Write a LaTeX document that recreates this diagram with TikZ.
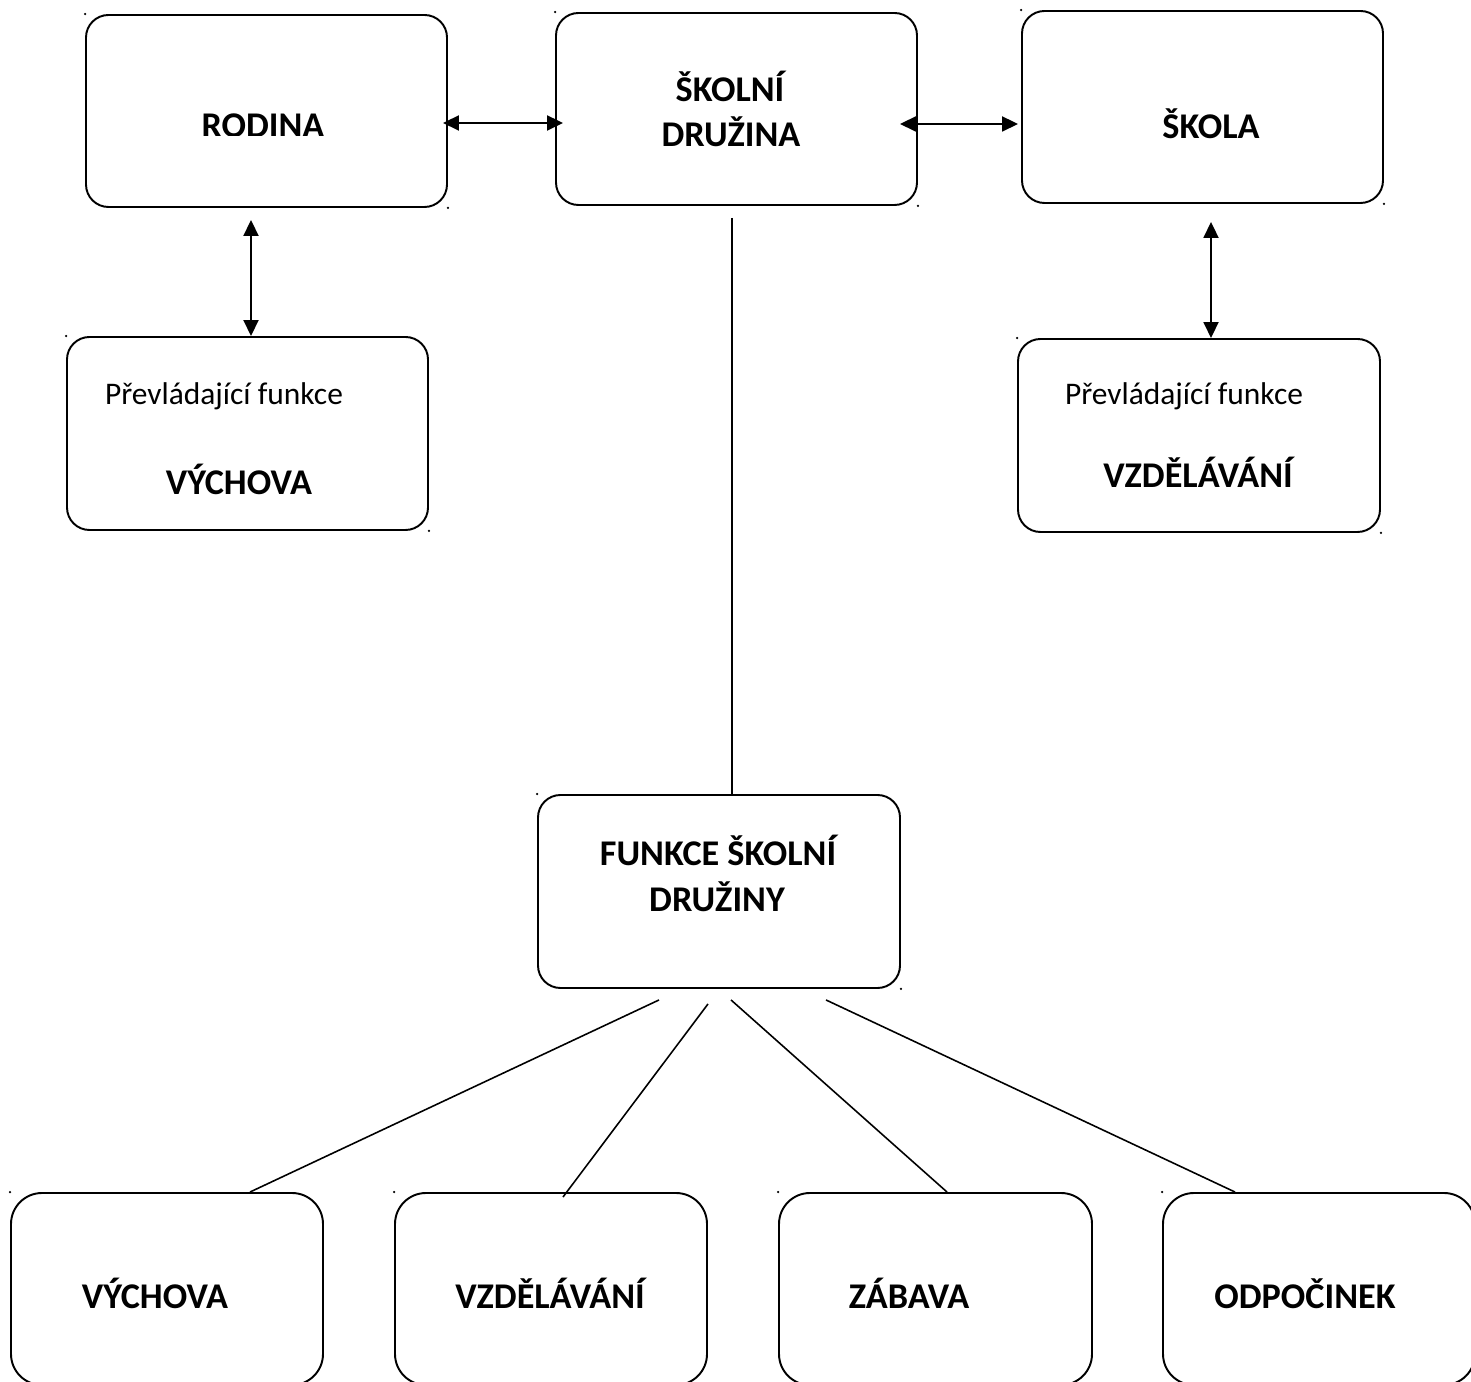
\documentclass[tikz,border=0pt]{standalone}
\usepackage{fontspec}
\setmainfont{Carlito}
\usetikzlibrary{arrows.meta}

\begin{document}
\begin{tikzpicture}[scale=1.0000]
	\tikzstyle{box}=[draw, rectangle, rounded corners=0.4500cm, line width=1.1000pt, minimum width=7.2200cm, minimum height=3.8400cm, inner sep=0pt]
	\tikzstyle{lowbox}=[box, rounded corners=0.6200cm, minimum width=6.2400cm]
	\tikzstyle{title}=[anchor=base, inner sep=0pt, font=\fontsize{20.6}{24}\selectfont\bfseries]
	\tikzstyle{plain}=[anchor=base, inner sep=0pt, font=\fontsize{17.9}{22}\selectfont]
	\tikzstyle{both}=[{Triangle[length=0.3200cm,width=0.3000cm]}-{Triangle[length=0.3200cm,width=0.3000cm]}, line width=1.1000pt]
	\tikzstyle{link}=[line width=0.9000pt]

	\useasboundingbox (0.0000,0.0000) rectangle (29.4200,27.6200);
	\clip (0.0000,0.0000) rectangle (29.4200,27.6200);

	%% boxes
	\node [box] (rodina) at (5.3300,25.4000) {};
	\node [box] (skolni) at (14.7300,25.4400) {};
	\node [box] (skola) at (24.0500,25.4800) {};
	\node [box, minimum height=3.8600cm] (vychovaR) at (4.9500,18.9500) {};
	\node [box, minimum height=3.8600cm, minimum width=7.2400cm] (vzdelS) at (23.9800,18.9100) {};
	\node [box, minimum height=3.8600cm, minimum width=7.2400cm] (funkce) at (14.3800,9.7900) {};
	\node [lowbox] (vychova) at (3.3400,1.8400) {};
	\node [lowbox] (vzdelavani) at (11.0200,1.8400) {};
	\node [lowbox, minimum width=6.2600cm] (zabava) at (18.7100,1.8400) {};
	\node [lowbox] (odpocinek) at (26.3800,1.8400) {};

	%% texts
	\begin{scope}
		\clip (3.0000,24.9000) rectangle (7.5000,26.0000);
		\node [title] (rodinaT) at (5.2600,24.8700) {RODINA};
	\end{scope}
	\node [title] (skolniT) at (14.6000,25.5800) {ŠKOLNÍ};
	\node [title] (skolniT2) at (14.6200,24.6800) {DRUŽINA};
	\node [title] (skolaT) at (24.2200,24.8400) {ŠKOLA};
	\node [plain] (vychovaRT) at (4.4800,19.5200) {Převládající funkce};
	\node [title] (vychovaRT2) at (4.7800,17.7200) {VÝCHOVA};
	\node [plain] (vzdelST) at (23.6800,19.5200) {Převládající funkce};
	\node [title] (vzdelST2) at (23.9600,17.8600) {VZDĚLÁVÁNÍ};
	\node [title] (funkceT) at (14.3600,10.3000) {FUNKCE ŠKOLNÍ};
	\node [title] (funkceT2) at (14.3400,9.3800) {DRUŽINY};
	\node [title] (vychovaT) at (3.1000,1.4600) {VÝCHOVA};
	\node [title] (vzdelavaniT) at (11.0000,1.4600) {VZDĚLÁVÁNÍ};
	\node [title] (zabavaT) at (18.1800,1.4600) {ZÁBAVA};
	\node [title] (odpocinekT) at (26.1000,1.4600) {ODPOČINEK};

	%% arrows
	\coordinate (rs) at ([yshift=-0.2400cm]rodina.east);
	\draw [both, shorten <=-0.1000cm, shorten >=-0.1600cm] (rs) -- (rs -| skolni.west);
	\coordinate (ss) at ([yshift=-0.3000cm]skolni.east);
	\draw [both, shorten <=-0.3600cm, shorten >=0.0600cm] (ss) -- (ss -| skola.west);
	\coordinate (rv) at ([xshift=0.0700cm]vychovaR.north);
	\draw [both, shorten <=0.2400cm] (rv |- rodina.south) -- (rv);
	\coordinate (sv) at ([xshift=0.2400cm]vzdelS.north);
	\draw [both, shorten <=0.3600cm] (sv |- skola.south) -- (sv);

	%% lines
	\coordinate (sf) at ([xshift=0.2600cm]funkce.north);
	\draw [link, shorten <=0.2400cm] (sf |- skolni.south) -- (sf);
	\draw [link] ([xshift=-1.2000cm,yshift=-0.2200cm]funkce.south) -- ([xshift=1.6600cm]vychova.north);
	\draw [link] ([xshift=-0.2200cm,yshift=-0.3000cm]funkce.south) -- ([xshift=0.2400cm,yshift=-0.1000cm]vzdelavani.north);
	\draw [link] ([xshift=0.2400cm,yshift=-0.2200cm]funkce.south) -- ([xshift=0.2300cm]zabava.north);
	\draw [link] ([xshift=2.1400cm,yshift=-0.2200cm]funkce.south) -- ([xshift=-1.6800cm]odpocinek.north);

	%% corner marks
	\fill (rodina.north west) circle (0.0250cm);
	\fill (rodina.south east) circle (0.0250cm);
	\fill (skolni.north west) circle (0.0250cm);
	\fill (skolni.south east) circle (0.0250cm);
	\fill (skola.north west) circle (0.0250cm);
	\fill (skola.south east) circle (0.0250cm);
	\fill (vychovaR.north west) circle (0.0250cm);
	\fill (vychovaR.south east) circle (0.0250cm);
	\fill (vzdelS.north west) circle (0.0250cm);
	\fill (vzdelS.south east) circle (0.0250cm);
	\fill (funkce.north west) circle (0.0250cm);
	\fill (funkce.south east) circle (0.0250cm);
	\fill (vychova.north west) circle (0.0250cm);
	\fill (vzdelavani.north west) circle (0.0250cm);
	\fill (zabava.north west) circle (0.0250cm);
	\fill (odpocinek.north west) circle (0.0250cm);

\end{tikzpicture}
\end{document}
